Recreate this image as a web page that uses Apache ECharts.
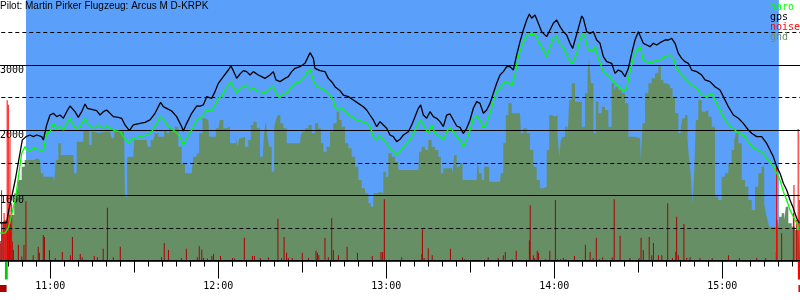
<!DOCTYPE html>
<html><head><meta charset="utf-8">
<script src="https://cdn.jsdelivr.net/npm/echarts@6/dist/echarts.min.js"></script>
<style>html,body{margin:0;padding:0;background:#fff}#c{width:800px;height:300px}</style>
</head><body><div id="c"></div>
<script>
// all times: minutes after 10:00, altitudes in metres
const gpsTimes = [42.04,44.4,45.0,47.5,50.0,51.33,52.75,53.94,55.13,56.92,57.52,58.71,59.90,61.09,62.28,63.47,64.66,65.85,67.04,67.64,68.83,70.02,71.21,72.40,73.23,74.78,76.56,77.75,78.94,80.14,81.33,82.52,84.30,85.49,86.68,88.23,89.66,92.04,93.83,95.61,97.40,98.59,99.42,100.37,101.56,103.35,105.14,106.92,107.52,108.71,110.49,112.28,113.47,
114.66,115.85,117.64,118.83,120.02,121.80,123.59,124.54,125.37,126.57,127.76,128.95,130.14,131.33,132.52,134.30,135.49,136.68,138.47,139.66,140.61,142.04,143.83,145.02,146.21,147.40,149.18,150.97,151.80,152.76,153.95,154.54,156.33,158.11,159.30,160.49,161.68,163.47,164.66,166.45,168.23,170.02,171.80,173.00,174.18,175.37,176.56,177.76,178.95,180.14,181.33,182.52,183.71,184.90,
186.09,187.88,189.07,190.26,191.45,192.28,193.23,194.42,195.61,196.21,196.80,197.99,199.19,200.38,201.57,202.76,203.95,205.14,206.33,207.52,208.71,209.90,211.09,212.28,213.47,214.66,215.85,217.04,218.23,219.42,220.61,221.80,222.99,224.19,225.38,226.57,227.76,228.95,230.14,231.09,231.92,233.11,234.30,235.49,237.28,238.47,239.66,240.85,242.04,243.23,244.42,245.61,246.57,247.40,248.59,249.78,250.38,251.57,252.76,253.95,255.14,256.33,
257.52,258.71,260.50,261.69,262.88,264.07,265.26,266.45,267.64,268.83,270.02,270.62,271.81,273.00,274.19,275.38,276.57,277.76,279.54,280.74,281.93,283.12,284.31,285.50,286.69,287.88,289.07,290.86,292.64,293.83,295.62,297.40,299.19,300.38,302.16,303.95,305.74,307.52,309.31,310.50,312.28,314.07,315.85,317.04,318.23,319.43,320.62,321.80,323.00,324.19,325.38,326.57,327.52];
const gpsValues = [580,580,730,1240,1850,1902,1927,1902,1927,1902,1850,2081,2234,2260,2209,2234,2183,2285,2372,2388,2285,2198,2285,2403,2337,2321,2301,2234,2285,2311,2260,2209,2198,2183,2081,1994,2081,2106,2122,2158,2260,2362,2429,2362,2337,2296,2209,2055,1989,2106,2260,2372,2370,
2388,2516,2490,2593,2721,2823,2925,2987,2915,2797,2864,2915,2900,2848,2900,2848,2823,2797,2848,2900,2772,2746,2797,2823,2900,2951,2976,3028,3104,3191,3104,2951,2915,2900,2797,2746,2669,2608,2541,2516,2465,2413,2362,2311,2234,2158,2055,2132,2081,2030,1927,1902,1825,1861,
1927,1978,2081,2209,2337,2388,2234,2183,2285,2311,2209,2183,2132,2055,2234,2250,2158,2065,2045,1953,2030,2158,2337,2439,2413,2260,2311,2413,2567,2721,2848,2900,2976,2976,2925,3156,3360,3539,3693,3785,3719,3770,3642,3514,3437,3539,3642,3693,3591,3514,3463,3335,3258,3386,3565,3754,3719,3514,3488,3514,3386,3335,
3130,3053,3028,2874,2925,2900,2823,2951,3181,3386,3514,3539,3335,3309,3283,3335,3309,3345,3386,3386,3411,3335,3181,3104,3053,3028,2925,2900,2848,2772,2746,2669,2618,2516,2362,2234,2183,2106,2004,1953,1902,1902,1799,1697,1595,1441,1339,1185,1083,929,801,648,571];

const baroTimes = [42.04,43.8,45.0,47.5,49.78,50.97,52.16,53.94,56.33,57.52,58.71,59.90,61.09,62.28,63.47,64.66,65.85,67.04,68.23,69.42,70.61,72.40,73.59,75.37,77.16,78.94,80.14,81.33,83.11,84.90,86.09,87.87,89.66,92.04,94.42,96.21,97.99,99.18,100.37,102.16,103.94,106.33,107.52,108.71,110.49,112.28,113.47,
114.66,115.85,117.64,118.83,120.02,121.21,122.40,123.59,124.54,125.37,126.57,127.76,128.95,130.14,131.33,132.52,134.30,135.49,136.68,138.47,139.66,140.85,142.04,143.83,145.02,146.21,147.40,149.18,150.97,151.80,152.76,153.95,155.14,156.92,158.71,159.90,161.09,161.68,162.88,164.07,165.85,167.64,169.42,171.21,173.00,174.18,175.37,176.56,177.76,178.95,180.14,181.33,182.52,183.71,184.90,
186.69,188.47,190.26,191.45,192.28,193.23,195.02,196.21,197.40,199.19,200.38,201.57,202.76,203.95,205.14,206.33,207.52,208.71,209.90,211.09,212.28,213.47,214.66,215.85,217.04,218.23,219.42,220.61,221.80,222.99,224.78,225.97,227.16,228.35,229.54,230.73,231.92,233.11,234.30,235.49,237.28,238.47,239.66,240.85,242.04,243.23,244.42,245.61,246.57,247.99,249.19,250.14,250.97,252.16,253.35,254.54,255.73,256.33,
257.52,258.71,259.90,261.09,262.28,263.47,264.66,265.85,267.04,268.23,269.42,270.62,271.81,273.00,274.19,275.38,276.57,277.76,279.54,281.33,282.52,283.71,285.50,287.28,289.07,290.86,292.64,294.43,296.21,297.40,299.19,300.38,302.16,303.95,305.14,306.33,307.52,309.31,311.09,312.88,314.66,315.85,317.04,318.23,319.43,320.62,321.80,323.00,324.19,325.38,326.57,327.52];
const baroValues = [420,420,500,930,1646,1748,1671,1722,1697,1671,1953,1978,2106,2030,2055,2004,2106,2183,2081,2030,2055,2183,2081,2030,2081,2030,2065,2030,1994,1978,1902,1799,1876,1902,1927,1978,2106,2209,2158,2065,2004,1902,1774,1876,2004,2158,2183,
2234,2311,2285,2388,2490,2516,2618,2695,2746,2669,2567,2644,2669,2695,2618,2644,2593,2593,2567,2644,2669,2541,2516,2567,2593,2669,2721,2746,2823,2900,2925,2772,2669,2644,2593,2541,2465,2362,2311,2337,2260,2209,2158,2132,2106,2055,1902,1850,1927,1850,1799,1722,1671,1620,1671,
1774,1850,2004,2106,2158,2081,1953,2081,1953,1902,1850,1978,2045,1978,1902,1850,1748,1850,2004,2183,2219,2158,2030,2106,2260,2439,2593,2644,2721,2746,2680,2848,3130,3283,3411,3488,3463,3488,3360,3283,3130,3283,3411,3437,3309,3283,3156,3053,3028,3181,3386,3488,3437,3232,3207,3283,3104,3079,
2900,2848,2823,2746,2695,2644,2593,2644,2900,3104,3232,3283,3079,3053,3028,3053,3079,3079,3130,3156,3104,2951,2848,2772,2695,2644,2541,2516,2567,2465,2311,2209,2081,2030,1978,1953,1927,1825,1722,1697,1646,1569,1518,1441,1339,1236,1057,929,776,673,571,469];

const gndTimes = [44.4,46.21,47.99,49.18,50.37,51.33,53.35,55.13,56.33,56.92,58.11,61.09,61.68,62.28,63.47,64.06,68.23,68.83,70.02,71.21,72.40,73.59,74.18,75.37,76.56,77.75,81.33,82.52,83.11,86.33,87.04,87.87,89.66,90.26,94.42,95.02,96.80,97.99,99.18,100.37,100.97,102.16,102.75,103.94,105.14,106.33,107.52,108.71,110.49,111.68,112.87,
113.47,115.26,116.45,117.04,118.23,120.02,121.21,122.40,123.59,124.78,125.97,126.57,127.16,127.76,128.95,130.14,131.33,131.92,133.11,134.30,135.49,136.09,136.68,137.28,137.88,138.47,139.66,140.26,140.85,141.68,142.64,143.83,145.02,149.18,149.78,150.38,151.57,152.76,153.95,155.14,156.33,156.92,158.11,159.30,160.49,161.68,162.88,163.47,164.66,165.85,167.04,168.23,169.42,170.61,171.80,173.00,174.18,174.78,175.97,177.16,178.35,179.54,180.14,181.33,182.52,183.71,
184.90,191.45,192.04,193.23,194.42,195.61,196.80,197.99,199.19,199.78,200.97,203.35,203.95,204.54,205.73,206.92,207.52,212.28,212.88,213.47,214.66,215.26,216.45,217.04,220.61,221.21,222.40,222.99,224.19,225.38,227.76,228.35,229.54,230.73,231.92,233.11,234.30,235.49,236.68,237.88,238.47,239.66,240.85,241.45,242.04,242.64,243.23,244.42,245.02,245.61,246.80,247.99,249.19,250.38,251.57,252.16,252.76,253.35,254.54,255.14,
256.33,257.52,258.71,259.90,261.09,261.69,262.28,263.47,264.66,265.85,267.04,270.62,271.21,271.81,273.00,274.19,275.38,276.57,277.76,278.35,279.54,280.74,281.93,282.52,283.71,284.90,285.50,286.09,287.28,287.88,288.47,289.07,289.66,290.26,290.86,292.04,293.23,294.43,295.62,296.81,298.00,299.19,300.38,301.57,302.76,303.95,304.54,305.14,306.33,307.52,308.71,309.90,311.09,312.28,313.47,314.66,315.26,315.85,316.45,317.04,320.02,320.62,321.80,322.40,323.00,324.19,325.38,326.57,327.75];
const gndValues = [420,700,1032,1236,1441,1543,1543,1569,1543,1339,1287,1287,1211,1543,1799,1620,1620,1339,1825,1825,2004,1978,1774,1978,1953,1978,1978,1876,1978,1978,980,1595,1595,1850,1850,1748,1850,1953,1902,1902,2004,1953,2030,1978,2055,1748,1492,1339,1339,1595,1646,
1953,2183,2158,1902,1902,2030,2158,2030,2055,1799,1799,1902,1748,1876,1902,1748,1850,2081,2132,2030,1595,1543,1978,2132,1902,1748,1364,2055,2158,2234,2106,2030,1799,1799,1927,1978,2030,2081,1953,2106,2030,1799,1671,1748,1978,2106,2285,2158,2055,1799,1722,1595,1441,1236,1108,1032,878,827,1032,1057,1032,1364,1287,1646,1595,1518,
1390,1390,1671,1748,1697,1850,1748,1697,1595,1339,1415,1415,1339,1620,1441,1492,1236,1236,1543,1339,1236,1441,1441,1211,1211,1339,1799,2234,2413,2260,2260,1953,2030,1953,1697,1441,1236,1108,1134,1697,2234,2209,2234,1953,1595,1850,1902,2055,1850,2465,2721,2439,2439,2055,2567,2900,3104,2721,1953,2439,
2260,2362,2311,2055,2721,2618,2669,2618,2567,2413,1902,1876,1543,2106,2567,2721,2797,2874,3002,2772,2721,2695,2644,2516,2260,1953,2055,2183,2234,1850,1543,1287,878,1339,2158,2465,2285,2311,2209,2055,980,929,1287,1339,1492,1697,1850,1953,1799,1236,1134,929,776,1134,1339,1441,878,724,622,520,520,673,724,622,827,571,520,469,469];

const noiseTimes = [42.1,42.4,42.8,43.1,43.4,43.8,44.1,44.5,44.8,45.2,45.5,45.9,
46.4,46.8,48.6,49.8,50.6,51.3,53.9,55.7,56.1,57.5,57.9,59.7,61.8,64.3,67.2,67.9,70.7,71.4,75.7,76.8,78.9,80.4,82.5,85.0,
99.7,100.7,102.2,106.8,108.6,112.5,113.2,114.1,114.7,116.1,117.7,118.3,120.8,125.1,125.8,129.3,132.2,132.9,135.0,137.9,
141.3,142.6,143.5,144.4,145.0,146.4,150.0,152.2,154.9,155.4,155.9,158.1,159.3,160.5,161.1,162.9,166.0,169.7,175.0,178.1,178.7,179.3,
185.5,192.7,192.9,193.5,195.0,196.4,202.9,207.2,207.9,216.4,220.0,221.8,222.5,224.9,226.4,231.1,231.4,232.5,233.0,233.9,234.4,236.8,238.4,
240.4,241.1,242.2,243.2,244.1,247.2,251.1,252.8,253.9,255.0,256.1,257.3,260.7,261.4,263.5,267.0,270.3,271.0,271.8,273.9,274.8,275.4,277.2,278.4,
280.5,282.2,283.4,283.7,284.3,286.3,287.3,288.5,292.0,296.4,302.2,306.1,312.3,315.5,319.3,319.5,321.2,325.4,326.6];
const noiseValues = [300,260,420,590,600,620,610,600,590,600,580,560,
290,160,240,60,240,910,80,210,120,390,360,160,40,130,80,360,100,50,70,50,180,810,50,210,
50,270,160,40,180,50,220,170,40,30,70,100,70,40,30,350,70,70,40,50,
640,40,360,120,40,40,120,40,150,120,80,350,50,650,160,80,210,120,70,130,130,940,
50,100,480,40,190,80,180,50,20,50,40,80,130,20,150,310,850,80,40,150,120,20,150,
930,20,20,40,20,70,240,130,40,350,20,50,50,940,380,40,40,350,160,360,80,270,80,80,
880,40,130,670,80,560,40,50,40,40,80,40,40,40,130,620,420,730,620];
const engineTimes = [42.6,43.5,44.6,45.0,45.6,46.2,319.4,325.6,327.1,327.5];
const engineValues = [1080,730,2460,2390,1880,880,1420,1160,2020,930];
const flightWindow = [51.33, 320.2];
const flightMarks = [[43.8,44.8,0],[327.0,327.75,1]];
const engineRuns = [[41.5,44.4,2],[327.2,327.75,3]];
const yLabelValues = [1000,2000,3000];
const title = 'Pilot: Martin Pirker Flugzeug: Arcus M D-KRPK';

const pair = (t, v) => t.map((x, i) => [x, v[i]]);
const mono = 'DejaVu Sans Mono';
const PXMIN = 2.8;            // px per minute
const T0 = 42.04;             // minute at left edge
const AXMIN = 0, AXMAX = 330;
const gridLeft = -(T0 - AXMIN) * PXMIN;
const gridRight = 800 - (AXMAX - T0) * PXMIN;
const markColors = ['#00cc00', '#ff0000', '#aa0000', '#ee0000'];

const chart = echarts.init(document.getElementById('c'), null, {renderer: 'canvas'});
const xBase = {type: 'value', min: AXMIN, max: AXMAX, position: 'bottom', splitLine: {show: false}, axisLabel: {show: false}, axisLine: {show: false}};
chart.setOption({
  animation: false,
  backgroundColor: '#fff',
  title: {text: title, left: 0, top: 1, padding: 0,
    textStyle: {fontFamily: 'Liberation Sans', fontSize: 10, fontWeight: 'normal', color: '#000'}},
  legend: {orient: 'vertical', right: 0, top: 2, padding: 0, itemWidth: 0, itemHeight: 0, itemGap: 0, icon: 'rect',
    textStyle: {fontFamily: mono, fontSize: 10, lineHeight: 10, padding: 0},
    data: [
      {name: 'baro', textStyle: {color: '#00ff00'}},
      {name: 'gps', textStyle: {color: '#000000'}},
      {name: 'noise', textStyle: {color: '#ff0000'}},
      {name: 'gnd', textStyle: {color: '#668f66'}}
    ]},
  grid: {left: gridLeft, right: gridRight, top: 0, bottom: 39.5, containLabel: false, outerBoundsMode: 'none'},
  xAxis: [
    Object.assign({}, xBase, {interval: 5, axisLine: {show: true, lineStyle: {color: '#aa0000', width: 2}},
      axisTick: {show: true, length: 6, lineStyle: {color: '#000', width: 1}}}),
    Object.assign({}, xBase, {interval: 30, axisTick: {show: true, length: 12, lineStyle: {color: '#000', width: 1}}}),
    Object.assign({}, xBase, {interval: 60, axisTick: {show: true, length: 18, lineStyle: {color: '#000', width: 1}},
      axisLabel: {show: true, margin: 21, fontFamily: mono, fontSize: 10, color: '#000',
        formatter: v => (v > 0 && v < AXMAX) ? (10 + v / 60) + ':00' : ''}})
  ],
  yAxis: [
    {type: 'value', min: 0, max: 4000, interval: 1000, z: 4, offset: gridLeft,
      axisLine: {show: false}, axisTick: {show: false},
      splitLine: {show: true, lineStyle: {color: ['#000', '#000', '#000', '#000', 'rgba(0,0,0,0)'], width: 1}},
      axisLabel: {inside: true, margin: 0, verticalAlign: 'top', align: 'left', fontFamily: mono, fontSize: 10, color: '#000',
        formatter: v => yLabelValues.indexOf(v) >= 0 ? String(v) : ''}},
    {type: 'value', min: 0, max: 4000, interval: 500, z: 4,
      axisLine: {show: false}, axisTick: {show: false}, axisLabel: {show: false},
      splitLine: {show: true, lineStyle: {color: ['rgba(0,0,0,0)', '#000'], width: 1, type: [4, 3]}}}
  ],
  series: [
    {name: 'window', type: 'line', z: 1, data: [[flightWindow[0], 0]], symbol: 'none', lineStyle: {opacity: 0}, silent: true,
      markArea: {silent: true, itemStyle: {color: '#5a9ffa', opacity: 1},
        data: [[{xAxis: flightWindow[0], yAxis: 4000}, {xAxis: flightWindow[1], yAxis: 0}]]}},
    {name: 'gnd', type: 'line', z: 2, step: 'middle', data: pair(gndTimes, gndValues), symbol: 'none',
      lineStyle: {width: 0}, areaStyle: {color: '#668f66', opacity: 1}, itemStyle: {color: '#668f66'}},
    {name: 'noise', type: 'bar', z: 3, barWidth: 1, barGap: '-100%', data: pair(noiseTimes, noiseValues),
      itemStyle: {color: '#aa0000'}},
    {name: 'noiseEngine', type: 'bar', z: 3, barWidth: 1, barGap: '-100%', data: pair(engineTimes, engineValues),
      itemStyle: {color: '#ff0000'}},
    {name: 'baro', type: 'line', z: 5, data: pair(baroTimes, baroValues), symbol: 'none',
      lineStyle: {color: '#00ff00', width: 1.3}, itemStyle: {color: '#00ff00'}},
    {name: 'gps', type: 'line', z: 6, data: pair(gpsTimes, gpsValues), symbol: 'none',
      lineStyle: {color: '#000', width: 1.3}, itemStyle: {color: '#000'}},
    {name: 'marks', type: 'custom', z: 6, data: flightMarks.concat(engineRuns), silent: true,
      renderItem: function (params, api) {
        const a = api.coord([api.value(0), 0]);
        const b = api.coord([api.value(1), 0]);
        const kind = api.value(2);
        const top = kind < 2 ? a[1] + 1.5 : a[1] + 24.5;
        const h = kind < 2 ? 17.5 : 7;
        return {type: 'rect', shape: {x: a[0], y: top, width: Math.max(1, b[0] - a[0]), height: h},
          style: {fill: markColors[kind]}};
      }}
  ]
});
</script></body></html>
